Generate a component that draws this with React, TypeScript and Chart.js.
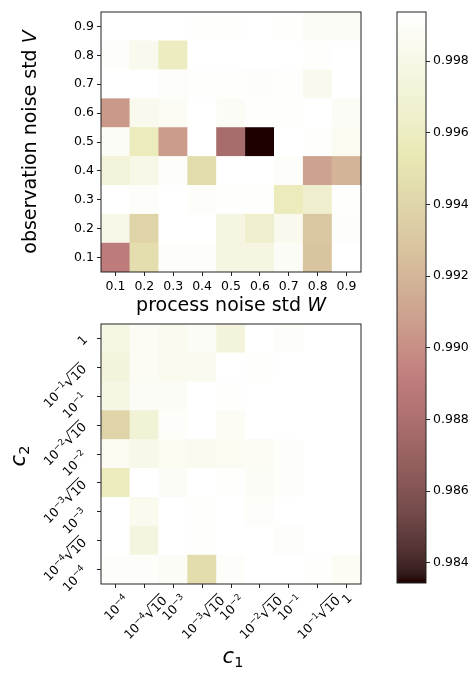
import React, { useEffect, useRef } from 'react';
import { Chart, registerables } from 'chart.js';

Chart.register(...registerables);

const FONT = "'DejaVu Sans', sans-serif";

// ---- colour scale ----
const COLOR_MIN = 0.98344;
const COLOR_MAX = 0.99937;
const COLORBAR_TICKS = [0.984, 0.986, 0.988, 0.99, 0.992, 0.994, 0.996, 0.998];

// ---- top heatmap: process noise W (x) vs observation noise V (y) ----
const W_LABELS = ['0.1', '0.2', '0.3', '0.4', '0.5', '0.6', '0.7', '0.8', '0.9'];
const V_LABELS = ['0.1', '0.2', '0.3', '0.4', '0.5', '0.6', '0.7', '0.8', '0.9'];

const TOP_V01 = [0.98902, 0.99459, 0.99905, 0.99905, 0.99762, 0.99762, 0.99889, 0.99284, 0.99937];
const TOP_V02 = [0.99794, 0.99379, 0.99937, 0.99937, 0.99762, 0.9965, 0.99825, 0.993, 0.99905];
const TOP_V03 = [0.99937, 0.99905, 0.99937, 0.99905, 0.99921, 0.99921, 0.99571, 0.9965, 0.99921];
const TOP_V04 = [0.99714, 0.99794, 0.99905, 0.99443, 0.99937, 0.99937, 0.99905, 0.99093, 0.99188];
const TOP_V05 = [0.99889, 0.99571, 0.99061, 0.99937, 0.98774, 0.98344, 0.99937, 0.99921, 0.99857];
const TOP_V06 = [0.99045, 0.99825, 0.99873, 0.99937, 0.99889, 0.99921, 0.99921, 0.99937, 0.99889];
const TOP_V07 = [0.99937, 0.99937, 0.99905, 0.99921, 0.99921, 0.99905, 0.99921, 0.99825, 0.99937];
const TOP_V08 = [0.99905, 0.99825, 0.99587, 0.99937, 0.99937, 0.99937, 0.99937, 0.99921, 0.99937];
const TOP_V09 = [0.99937, 0.99937, 0.99937, 0.99921, 0.99921, 0.99937, 0.99921, 0.99889, 0.99889];
const TOP_ROWS = [TOP_V01, TOP_V02, TOP_V03, TOP_V04, TOP_V05, TOP_V06, TOP_V07, TOP_V08, TOP_V09];

// ---- bottom heatmap: c1 (x) vs c2 (y) ----
const SQ = '√1\u03050\u0305';
const C_LABELS = ['10⁻⁴', '10⁻⁴' + SQ, '10⁻³', '10⁻³' + SQ, '10⁻²', '10⁻²' + SQ, '10⁻¹', '10⁻¹' + SQ, '1'];

const BOT_C2_1E4 = [0.99905, 0.99905, 0.99889, 0.99443, 0.99905, 0.99937, 0.99937, 0.99921, 0.99873];
const BOT_C2_1E4S = [0.99937, 0.99746, 0.99937, 0.99921, 0.99937, 0.99937, 0.99905, 0.99937, 0.99937];
const BOT_C2_1E3 = [0.99937, 0.99841, 0.99937, 0.99921, 0.99937, 0.99905, 0.99937, 0.99937, 0.99937];
const BOT_C2_1E3S = [0.99571, 0.99937, 0.99889, 0.99937, 0.99921, 0.99889, 0.99905, 0.99937, 0.99937];
const BOT_C2_1E2 = [0.99857, 0.9981, 0.99857, 0.99841, 0.99857, 0.99873, 0.99905, 0.99937, 0.99937];
const BOT_C2_1E2S = [0.99379, 0.99698, 0.99905, 0.99937, 0.99873, 0.99937, 0.99937, 0.99937, 0.99937];
const BOT_C2_1E1 = [0.99778, 0.99889, 0.99889, 0.99937, 0.99921, 0.99937, 0.99937, 0.99937, 0.99937];
const BOT_C2_1E1S = [0.9973, 0.99873, 0.99841, 0.99841, 0.99937, 0.99921, 0.99937, 0.99937, 0.99937];
const BOT_C2_1 = [0.99778, 0.99873, 0.99841, 0.99889, 0.9973, 0.99937, 0.99905, 0.99937, 0.99937];
const BOT_ROWS = [BOT_C2_1E4, BOT_C2_1E4S, BOT_C2_1E3, BOT_C2_1E3S, BOT_C2_1E2, BOT_C2_1E2S, BOT_C2_1E1, BOT_C2_1E1S, BOT_C2_1];

// matplotlib "pink" colormap: sqrt((2*gray + hot)/3)
function pink(t: number): string {
  const x = Math.min(1, Math.max(0, t));
  const a = 0.365079, b = 0.746032;
  const hr = x < a ? 0.0416 + (1 - 0.0416) * x / a : 1;
  const hg = x < a ? 0 : x < b ? (x - a) / (b - a) : 1;
  const hb = x < b ? 0 : (x - b) / (1 - b);
  const r = Math.sqrt((2 * x + hr) / 3);
  const g = Math.sqrt((2 * x + hg) / 3);
  const bl = Math.sqrt((2 * x + hb) / 3);
  return `rgb(${Math.round(r * 255)},${Math.round(g * 255)},${Math.round(bl * 255)})`;
}
const norm = (v: number) => (v - COLOR_MIN) / (COLOR_MAX - COLOR_MIN);

type Part = { text: string; size: number; italic?: boolean; dy?: number };
function drawMixed(ctx: CanvasRenderingContext2D, parts: Part[], cx: number, cy: number, rot: number, baseShift: number) {
  ctx.save();
  ctx.translate(cx, cy);
  ctx.rotate(rot);
  ctx.fillStyle = '#000';
  ctx.textBaseline = 'alphabetic';
  ctx.textAlign = 'left';
  let total = 0;
  const widths = parts.map((p) => {
    ctx.font = `${p.italic ? 'italic ' : ''}${p.size}px ${FONT}`;
    const w = ctx.measureText(p.text).width;
    total += w;
    return w;
  });
  let x = -total / 2;
  parts.forEach((p, i) => {
    ctx.font = `${p.italic ? 'italic ' : ''}${p.size}px ${FONT}`;
    ctx.fillText(p.text, x, baseShift + (p.dy || 0));
    x += widths[i];
  });
  ctx.restore();
}

// ---- math-style rotated tick labels (10^-n sqrt(10)) ----
const BASE = 12.5;
const SUP_CHARS = '⁰¹²³⁴⁵⁶⁷⁸⁹';
type Piece = { text: string; size: number; dy: number; x: number; w: number; overline?: boolean };
function layoutLabel(ctx: CanvasRenderingContext2D, label: string) {
  const m = label.match(/^10([⁻⁰¹²³⁴⁵⁶⁷⁸⁹]*)(√(.*))?$/);
  const raw: { text: string; size: number; dy: number; overline?: boolean }[] = [];
  let asc = 0.729 * BASE;
  let desc = 0;
  let overY = 0;
  if (!m) {
    raw.push({ text: label, size: BASE, dy: 0 });
  } else {
    raw.push({ text: '10', size: BASE, dy: 0 });
    if (m[1]) {
      const sup = m[1].replace(/⁻/g, '−').replace(/[⁰¹²³⁴⁵⁶⁷⁸⁹]/g, (c) => String(SUP_CHARS.indexOf(c)));
      const ss = BASE * 0.7;
      const dy = -BASE * 0.42;
      raw.push({ text: sup, size: ss, dy });
      asc = Math.max(asc, -dy + 0.729 * ss);
    }
    if (m[2]) {
      ctx.font = `${BASE}px ${FONT}`;
      const mt = ctx.measureText('√');
      const target = 0.729 * BASE + 3;
      const rs = BASE * target / (mt.actualBoundingBoxAscent || target);
      raw.push({ text: '√', size: rs, dy: 0 });
      raw.push({ text: (m[3] || '').replace(/\u0305/g, ''), size: BASE, dy: 0, overline: true });
      overY = target;
      asc = Math.max(asc, target + 0.5);
      desc = Math.max(desc, (mt.actualBoundingBoxDescent || 0) * rs / BASE);
    }
  }
  let x = 0;
  const pieces: Piece[] = raw.map((p) => {
    ctx.font = `${p.size}px ${FONT}`;
    const w = ctx.measureText(p.text).width;
    const pc = { ...p, x, w };
    x += w;
    return pc;
  });
  return { pieces, width: x, asc, desc, overY };
}

function drawRotLabel(ctx: CanvasRenderingContext2D, label: string, px: number, py: number, mode: 'x' | 'y') {
  const L = layoutLabel(ctx, label);
  const th = -Math.PI / 4;
  const c = Math.cos(th), s = Math.sin(th);
  const corners = [[0, -L.asc], [L.width, -L.asc], [0, L.desc], [L.width, L.desc]].map(([x, y]) => [x * c - y * s, x * s + y * c]);
  const xmin = Math.min(...corners.map((p) => p[0]));
  const xmax = Math.max(...corners.map((p) => p[0]));
  const ymin = Math.min(...corners.map((p) => p[1]));
  let ox: number, oy: number;
  if (mode === 'x') {
    ox = px - (xmin + xmax) / 2;
    oy = py - ymin;
  } else {
    ox = px - xmax;
    oy = py - L.asc / 2 - ymin;
  }
  ctx.save();
  ctx.translate(ox, oy);
  ctx.rotate(th);
  ctx.fillStyle = '#000';
  ctx.textBaseline = 'alphabetic';
  ctx.textAlign = 'left';
  L.pieces.forEach((p) => {
    ctx.font = `${p.size}px ${FONT}`;
    ctx.fillText(p.text, p.x, p.dy);
    if (p.overline) ctx.fillRect(p.x - 0.5, -L.overY, p.w + 0.5, 0.9);
  });
  ctx.restore();
}

const framePlugin = {
  id: 'frame',
  afterDraw(chart: any) {
    const { ctx, chartArea: a } = chart;
    ctx.save();
    ctx.strokeStyle = '#222';
    ctx.lineWidth = 1;
    ctx.strokeRect(a.left, a.top, a.right - a.left, a.bottom - a.top);
    ctx.restore();
  },
};

const tickFont = { family: FONT, size: 12.5 };
const gridOpts = {
  display: true,
  drawOnChartArea: false,
  drawTicks: true,
  tickLength: 4,
  color: '#222',
  lineWidth: 1,
  offset: false,
};

function heatmapConfig(xLabels: string[], yLabels: string[], rows: number[][], padTop: number, xAxisH: number, mathTicks: boolean, titles: (ctx: CanvasRenderingContext2D) => void): any {
  const extra: any[] = [];
  if (mathTicks) {
    extra.push({
      id: 'mathTicks',
      afterDraw(chart: any) {
        const ctx = chart.ctx;
        const a = chart.chartArea;
        xLabels.forEach((lab, i) => drawRotLabel(ctx, lab, chart.scales.x.getPixelForTick(i), a.bottom + 8.5, 'x'));
        yLabels.forEach((lab, i) => drawRotLabel(ctx, lab, a.left - 13, chart.scales.y.getPixelForTick(i), 'y'));
      },
    });
  }
  return {
    type: 'bar',
    data: {
      labels: xLabels,
      datasets: rows.map((row, i) => ({
        label: yLabels[i],
        data: row.map(() => 1),
        backgroundColor: row.map((v) => pink(norm(v))),
        borderWidth: 0,
        barPercentage: 1,
        categoryPercentage: 1,
        stack: 'grid',
      })),
    },
    options: {
      responsive: false,
      animation: false,
      events: [],
      layout: { padding: { left: 0, top: padTop, right: 115, bottom: 0 } },
      plugins: { legend: { display: false }, tooltip: { enabled: false } },
      scales: {
        x: {
          type: 'category',
          stacked: true,
          grid: gridOpts,
          border: { display: false },
          ticks: { display: !mathTicks, color: '#000', font: tickFont, padding: 3, autoSkip: false, maxRotation: 0 },
          afterFit: (s: any) => { s.height = xAxisH; },
        },
        y: {
          type: 'linear',
          stacked: true,
          min: 0,
          max: yLabels.length,
          grid: gridOpts,
          border: { display: false },
          afterBuildTicks: (s: any) => { s.ticks = yLabels.map((_, i) => ({ value: i + 0.5 })); },
          ticks: {
            display: !mathTicks,
            color: '#000',
            font: tickFont,
            padding: 3,
            autoSkip: false,
            callback: (_v: any, i: number) => yLabels[i],
          },
          afterFit: (s: any) => { s.width = 101; },
        },
      },
    },
    plugins: [framePlugin, ...extra, { id: 'titles', afterDraw: (chart: any) => titles(chart.ctx) }],
  };
}

export default function App() {
  const topRef = useRef<HTMLCanvasElement>(null);
  const botRef = useRef<HTMLCanvasElement>(null);
  const cbRef = useRef<HTMLCanvasElement>(null);

  useEffect(() => {
    const charts: Chart[] = [];
    const TS = 19;
    charts.push(new Chart(topRef.current!, heatmapConfig(W_LABELS, V_LABELS, TOP_ROWS, 12, 674 - 272, false, (ctx) => {
      drawMixed(ctx, [{ text: 'process noise std ', size: TS }, { text: 'W', size: TS, italic: true }], 231, 306, 0, 5);
      drawMixed(ctx, [{ text: 'observation noise std ', size: TS }, { text: 'V', size: TS, italic: true }], 31, 142, -Math.PI / 2, 5);
    })));
    charts.push(new Chart(botRef.current!, heatmapConfig(C_LABELS, C_LABELS, BOT_ROWS, 324, 674 - 584, true, (ctx) => {
      drawMixed(ctx, [{ text: 'c', size: 21, italic: true }, { text: '1', size: 14.5, dy: 4 }], 233, 660, 0, 3);
      drawMixed(ctx, [{ text: 'c', size: 21, italic: true }, { text: '2', size: 14.5, dy: 4 }], 22, 456, -Math.PI / 2, 3);
    })));
    charts.push(new Chart(cbRef.current!, {
      type: 'bar',
      data: {
        labels: [''],
        datasets: [{
          data: [[COLOR_MIN, COLOR_MAX]] as any,
          backgroundColor: (c: any) => {
            const chart = c.chart;
            const ys = chart.scales && chart.scales.y;
            if (!chart.chartArea || !ys) return '#fff';
            const g = chart.ctx.createLinearGradient(0, ys.getPixelForValue(COLOR_MIN), 0, ys.getPixelForValue(COLOR_MAX));
            const n = 64;
            for (let k = 0; k <= n; k++) g.addColorStop(k / n, pink(k / n));
            return g;
          },
          borderWidth: 0,
          barPercentage: 1,
          categoryPercentage: 1,
        }],
      },
      options: {
        responsive: false,
        animation: false,
        events: [],
        layout: { padding: { left: 397, top: 12, right: 0, bottom: 674 - 583 } },
        plugins: { legend: { display: false }, tooltip: { enabled: false } },
        scales: {
          x: { display: false },
          y: {
            position: 'right',
            min: COLOR_MIN,
            max: COLOR_MAX,
            grid: gridOpts,
            border: { display: false },
            afterBuildTicks: (s: any) => { s.ticks = COLORBAR_TICKS.map((v) => ({ value: v })); },
            ticks: { color: '#000', font: tickFont, padding: 3, autoSkip: false, callback: (v: any) => Number(v).toFixed(3) },
            afterFit: (s: any) => { s.width = 50; },
          },
        },
      },
      plugins: [framePlugin],
    } as any));
    return () => charts.forEach((c) => c.destroy());
  }, []);

  const cs: React.CSSProperties = { position: 'absolute', left: 0, top: 0, width: 476, height: 674 };
  return (
    <div style={{ position: 'absolute', left: 0, top: 0, width: 476, height: 674, background: '#fff' }}>
      <canvas ref={topRef} width={476} height={674} style={cs} />
      <canvas ref={botRef} width={476} height={674} style={cs} />
      <canvas ref={cbRef} width={476} height={674} style={cs} />
    </div>
  );
}
